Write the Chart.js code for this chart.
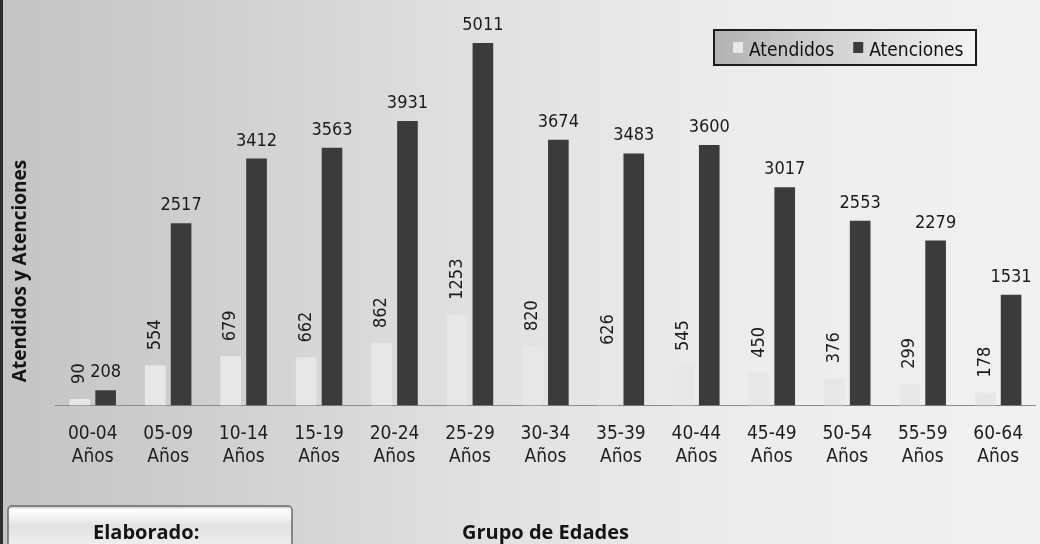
<!DOCTYPE html>
<html>
<head>
<meta charset="utf-8">
<script src="https://cdn.jsdelivr.net/npm/chart.js@4"></script>
<style>
  html, body { margin: 0; padding: 0; background: #d6d6d6; }
  canvas { display: block; }
</style>
</head>
<body>
<canvas id="chart" width="1040" height="544"></canvas>
<script>
// Grupos de edad (dos líneas por etiqueta)
const grupos = [
  ['00-04', 'Años'], ['05-09', 'Años'], ['10-14', 'Años'], ['15-19', 'Años'],
  ['20-24', 'Años'], ['25-29', 'Años'], ['30-34', 'Años'], ['35-39', 'Años'],
  ['40-44', 'Años'], ['45-49', 'Años'], ['50-54', 'Años'], ['55-59', 'Años'],
  ['60-64', 'Años']
]
const atendidos = [90, 554, 679, 662, 862, 1253, 820, 626, 545, 450, 376, 299, 178]
const atenciones = [208, 2517, 3412, 3563, 3931, 5011, 3674, 3483, 3600, 3017, 2553, 2279, 1531]
const series = ['Atendidos', 'Atenciones']
const tituloX = 'Grupo de Edades'
const tituloY = 'Atendidos y Atenciones'
const pie = 'Elaborado:'

const fuente = '"DejaVu Sans Condensed", "DejaVu Sans", sans-serif'
const fuenteNegrita = '"Open Sans", "DejaVu Sans", sans-serif'

// fondo gris, borde izquierdo y recuadro "Elaborado:"
const fondo = {
    id: 'fondo',
    beforeDraw(chart) {
        const { ctx, width, height } = chart
        ctx.save()
        const g = ctx.createLinearGradient(0, 0, width, 0)
        g.addColorStop(0, '#c4c4c4')
        g.addColorStop(0.2, '#cfcfcf')
        g.addColorStop(0.45, '#e0e0e0')
        g.addColorStop(0.7, '#ececec')
        g.addColorStop(1, '#f1f1f1')
        ctx.fillStyle = g
        ctx.fillRect(0, 0, width, height)

        ctx.fillStyle = '#2e2e2e'
        ctx.fillRect(0, 0, 3, height)

        // botón inferior
        const bx = 8, by = 506, bw = 284, bh = 44
        const gb = ctx.createLinearGradient(0, by, 0, by + bh)
        gb.addColorStop(0, '#bdbdbd')
        gb.addColorStop(0.08, '#ffffff')
        gb.addColorStop(0.25, '#f4f4f4')
        gb.addColorStop(0.45, '#e2e2e2')
        gb.addColorStop(1, '#f2f2f2')
        ctx.fillStyle = gb
        ctx.beginPath()
        ctx.roundRect(bx, by, bw, bh, 4)
        ctx.fill()
        ctx.strokeStyle = '#6a6a6a'
        ctx.lineWidth = 1.5
        ctx.stroke()

        ctx.fillStyle = '#151515'
        ctx.font = 'bold 20px ' + fuenteNegrita
        ctx.textAlign = 'left'
        ctx.textBaseline = 'alphabetic'
        ctx.fillText(pie, 93, 539)
        ctx.restore()
    }
}

// valores sobre cada barra
const etiquetas = {
    id: 'etiquetas',
    afterDatasetsDraw(chart) {
        const ctx = chart.ctx
        ctx.save()
        ctx.fillStyle = '#1b1b1b'
        ctx.font = '18px ' + fuente
        chart.getDatasetMeta(0).data.forEach((bar, i) => {
            ctx.save()
            ctx.translate(bar.x, bar.y - 15)
            ctx.rotate(-Math.PI / 2)
            ctx.textAlign = 'left'
            ctx.textBaseline = 'middle'
            ctx.fillText(String(atendidos[i]), 0, 0)
            ctx.restore()
        })
        ctx.textAlign = 'center'
        ctx.textBaseline = 'alphabetic'
        chart.getDatasetMeta(1).data.forEach((bar, i) => {
            ctx.fillText(String(atenciones[i]), bar.x, bar.y - 13)
        })
        ctx.restore()
    }
}

// leyenda con recuadro y título vertical
const leyenda = {
    id: 'leyenda',
    afterDraw(chart) {
        const ctx = chart.ctx
        ctx.save()
        const x = 714, y = 30, w = 262, h = 35
        const g = ctx.createLinearGradient(x, 0, x + w, 0)
        g.addColorStop(0, '#b2b2b2')
        g.addColorStop(0.45, '#d2d2d2')
        g.addColorStop(1, '#f4f4f4')
        ctx.fillStyle = g
        ctx.fillRect(x, y, w, h)
        ctx.strokeStyle = '#1c1c1c'
        ctx.lineWidth = 2
        ctx.strokeRect(x, y, w, h)

        ctx.font = '19px ' + fuente
        ctx.textBaseline = 'alphabetic'
        ctx.textAlign = 'left'
        let cx = x + 19
        chart.data.datasets.forEach(ds => {
            ctx.fillStyle = ds.backgroundColor
            ctx.fillRect(cx, y + 12, 10, 11)
            ctx.fillStyle = '#111111'
            ctx.fillText(ds.label, cx + 16, y + 26)
            cx += 16 + ctx.measureText(ds.label).width + 19
        })

        ctx.translate(21, 271)
        ctx.rotate(-Math.PI / 2)
        ctx.font = 'bold 19px ' + fuenteNegrita
        ctx.textAlign = 'center'
        ctx.textBaseline = 'middle'
        ctx.fillStyle = '#141414'
        ctx.fillText(tituloY, 0, 0)
        ctx.restore()
    }
}

new Chart(document.getElementById('chart'), {
    type: 'bar',
    data: {
        labels: grupos,
        datasets: [
            {
                label: series[0],
                data: atendidos,
                backgroundColor: '#e7e7e7',
                borderWidth: 0,
                categoryPercentage: 0.684,
                barPercentage: 0.8,
            },
            {
                label: series[1],
                data: atenciones,
                backgroundColor: '#3b3b3b',
                borderWidth: 0,
                categoryPercentage: 0.684,
                barPercentage: 0.8,
            },
        ],
    },
    options: {
        responsive: false,
        animation: false,
        layout: { padding: { left: 55, top: 30, right: 0, bottom: 0 } },
        plugins: {
            legend: { display: false },
            tooltip: { enabled: false },
        },
        scales: {
            x: {
                grid: { display: false, drawTicks: false },
                border: { display: true, color: '#8a8a8a', width: 1 },
                ticks: {
                    color: '#1e1e1e',
                    font: { family: fuente, size: 19, lineHeight: 1.2 },
                    padding: 17,
                    maxRotation: 0,
                    autoSkip: false,
                },
                title: {
                    display: true,
                    text: tituloX,
                    color: '#141414',
                    font: { family: fuenteNegrita, size: 20, weight: 'bold', lineHeight: 1.1 },
                    padding: { top: 37, bottom: 0 },
                },
            },
            y: {
                display: false,
                min: 0,
                max: 5190,
            },
        },
    },
    plugins: [fondo, etiquetas, leyenda],
})
</script>
</body>
</html>
